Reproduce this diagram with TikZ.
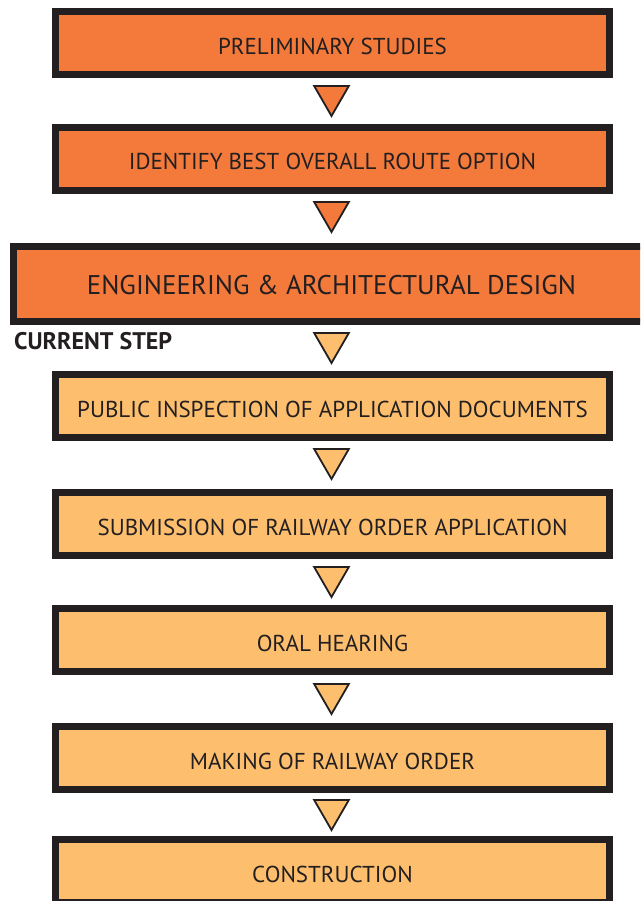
\documentclass[tikz,border=0pt]{standalone}
\usepackage{fontspec}
\setmainfont{PT Sans}
\usetikzlibrary{shapes.geometric}
\definecolor{darkor}{HTML}{F37A3B}
\definecolor{lightor}{HTML}{FDBF6E}
\definecolor{ink}{HTML}{231F20}
\begin{document}
\begin{tikzpicture}[x=1pt,y=-1pt,
  box/.style={draw=ink, line width=7pt, minimum width=554.5pt, minimum height=63pt,
    inner sep=0pt, text=ink, font=\fontsize{23}{26}\selectfont,
    text height=22pt, text depth=0pt},
  dstep/.style={box, fill=darkor},
  lstep/.style={box, fill=lightor},
  tri/.style={draw=ink, line width=1.8pt, regular polygon, regular polygon sides=3,
    shape border rotate=180, minimum size=40pt, inner sep=0pt},
  dtri/.style={tri, fill=darkor},
  ltri/.style={tri, fill=lightor}]
\path[use as bounding box] (0,0) rectangle (640,901);
\clip (0,0) rectangle (640,901);
\node[dstep] (b1) at (332.5,43.5) {PRELIMINARY STUDIES};
\node[dstep] (b2) at (332.5,159) {IDENTIFY BEST OVERALL ROUTE OPTION};
\node[dstep, minimum width=636pt, minimum height=75pt, font=\fontsize{27}{30}\selectfont,
  text height=20pt] (b3) at (331.5,284) {ENGINEERING \& ARCHITECTURAL DESIGN};
\node[lstep] (b4) at (332.5,406) {PUBLIC INSPECTION OF APPLICATION DOCUMENTS};
\node[lstep] (b5) at (332.5,524) {SUBMISSION OF RAILWAY ORDER APPLICATION};
\node[lstep] (b6) at (332.5,640) {ORAL HEARING};
\node[lstep] (b7) at (332.5,758) {MAKING OF RAILWAY ORDER};
\node[lstep] (b8) at (332.5,871) {CONSTRUCTION};
\node[anchor=west, inner sep=0pt, text=ink, font=\bfseries\fontsize{24}{26}\selectfont,
  text height=17pt, text depth=0pt] (cur) at (14,341) {CURRENT STEP};
\node[dtri] (t1) at (331.5,96) {};
\node[dtri] (t2) at (331.5,212) {};
\node[ltri] (t3) at (331.5,343) {};
\node[ltri] (t4) at (331.5,459) {};
\node[ltri] (t5) at (331.5,577) {};
\node[ltri] (t6) at (331.5,694) {};
\node[ltri] (t7) at (331.5,810) {};
\end{tikzpicture}
\end{document}
